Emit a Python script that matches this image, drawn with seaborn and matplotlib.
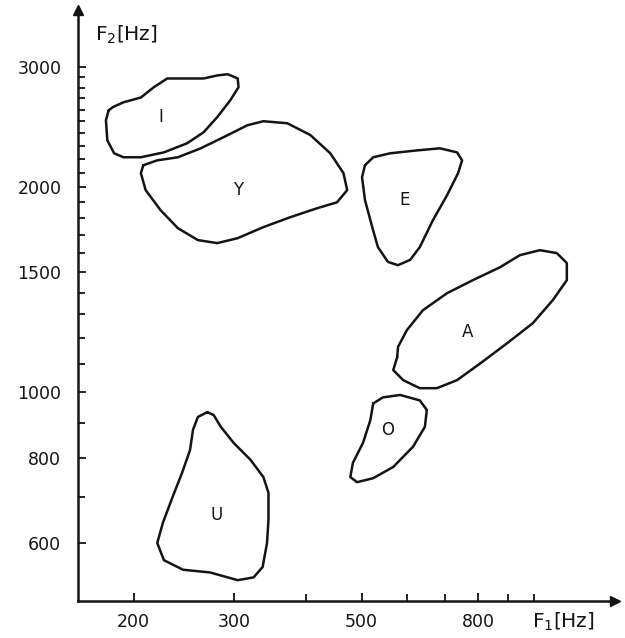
import matplotlib
matplotlib.use("Agg")
import matplotlib.pyplot as plt
from matplotlib.ticker import FixedLocator, NullFormatter
import seaborn as sns

# vowel regions: outline points (F1, F2 in Hz)
vowels = ["I", "Y", "E", "A", "O", "U"]

i_f1 = [181, 179, 180, 185, 192, 206, 226, 248, 265, 280, 295, 305, 304, 292, 280, 265, 244, 229, 217, 206, 192, 184]
i_f2 = [2594, 2509, 2344, 2243, 2213, 2213, 2250, 2320, 2408, 2535, 2683, 2805, 2889, 2931, 2919, 2889, 2889, 2889, 2805, 2709, 2665, 2622]

y_f1 = [208, 206, 210, 223, 239, 259, 280, 304, 337, 375, 418, 453, 472, 465, 441, 407, 371, 337, 316, 287, 262, 239, 220]
y_f2 = [2154, 2097, 1980, 1850, 1741, 1672, 1655, 1683, 1747, 1806, 1862, 1900, 1980, 2097, 2243, 2386, 2483, 2500, 2466, 2368, 2281, 2213, 2190]

e_f1 = [507, 501, 507, 522, 534, 556, 579, 608, 632, 666, 705, 737, 749, 734, 685, 625, 561, 524]
e_f2 = [2154, 2069, 1914, 1747, 1633, 1553, 1536, 1564, 1633, 1788, 1946, 2097, 2190, 2250, 2281, 2265, 2243, 2213]

a_f1 = [577, 568, 591, 632, 677, 734, 805, 897, 995, 1078, 1141, 1141, 1096, 1024, 945, 872, 782, 705, 640, 600, 579]
a_f2 = [1125, 1077, 1041, 1013, 1013, 1041, 1101, 1179, 1262, 1364, 1460, 1547, 1600, 1616, 1589, 1525, 1460, 1397, 1319, 1233, 1165]

o_f1 = [524, 518, 503, 483, 478, 491, 524, 568, 615, 645, 650, 632, 584, 545]
o_f2 = [962, 909, 842, 787, 750, 737, 747, 776, 831, 889, 941, 972, 990, 982]

u_f1 = [269, 259, 254, 251, 243, 234, 225, 220, 226, 244, 272, 304, 324, 336, 342, 344, 344, 337, 320, 299, 284, 276]
u_f2 = [934, 919, 880, 822, 760, 701, 642, 600, 566, 548, 543, 529, 534, 553, 600, 649, 711, 750, 795, 842, 889, 925]

# where each vowel letter sits
label_f1 = [223, 305, 595, 767, 556, 279]
label_f2 = [2535, 1980, 1914, 1224, 880, 660]

outlines = [(i_f1, i_f2), (y_f1, y_f2), (e_f1, e_f2),
            (a_f1, a_f2), (o_f1, o_f2), (u_f1, u_f2)]

x_major = [200, 300, 500, 800]
x_minor = [400, 600, 700, 900, 1000]
y_major = [600, 800, 1000, 1500, 2000, 3000]
y_minor = [f for f in range(700, 3000, 100) if f not in y_major]

ink = "#141414"

sns.set_style("white")
plt.rcParams["font.family"] = ["DejaVu Sans"]

fig = plt.figure(figsize=(6.25, 6.38), dpi=100)
ax = fig.add_axes([0.1248, 0.058, 0.859, 0.926])

for f1, f2 in outlines:
    xs = list(f1) + [f1[0]]
    ys = list(f2) + [f2[0]]
    sns.lineplot(x=xs, y=ys, sort=False, estimator=None, ax=ax,
                 color=ink, linewidth=1.8, solid_joinstyle="round")

for name, fx, fy in zip(vowels, label_f1, label_f2):
    ax.text(fx, fy, name, ha="center", va="center", fontsize=12, color=ink)

ax.set_xscale("log")
ax.set_yscale("log")
ax.set_xlim(160, 1384)
ax.set_ylim(493, 3640)

ax.xaxis.set_major_locator(FixedLocator(x_major))
ax.xaxis.set_minor_locator(FixedLocator(x_minor))
ax.set_xticklabels([str(v) for v in x_major])
ax.xaxis.set_minor_formatter(NullFormatter())
ax.yaxis.set_major_locator(FixedLocator(y_major))
ax.yaxis.set_minor_locator(FixedLocator(y_minor))
ax.set_yticklabels([str(v) for v in y_major])
ax.yaxis.set_minor_formatter(NullFormatter())

ax.tick_params(axis="both", which="both", direction="in", color=ink,
               labelcolor=ink, labelsize=12.5, width=1.3,
               bottom=True, left=True, top=False, right=False)
ax.tick_params(axis="both", which="major", length=6)
ax.tick_params(axis="both", which="minor", length=5)
ax.tick_params(axis="x", which="both", pad=9)
ax.tick_params(axis="y", which="both", pad=12)

for side in ["top", "right"]:
    ax.spines[side].set_visible(False)
for side in ["left", "bottom"]:
    ax.spines[side].set_color(ink)
    ax.spines[side].set_linewidth(1.8)

# arrow heads on the axes
ax.plot(1, 0, ">", color=ink, markersize=7, transform=ax.transAxes, clip_on=False)
ax.plot(0, 1, "^", color=ink, markersize=7, transform=ax.transAxes, clip_on=False)

ax.text(0.845, -0.036, "F$_1$[Hz]", transform=ax.transAxes, ha="left", va="center",
        fontsize=14.5, color=ink)
ax.text(0.032, 0.958, "F$_2$[Hz]", transform=ax.transAxes, ha="left", va="center",
        fontsize=14.5, color=ink)

ax.set_xlabel("")
ax.set_ylabel("")
ax.grid(False)

fig.savefig("out.png", dpi=100, facecolor="white")
